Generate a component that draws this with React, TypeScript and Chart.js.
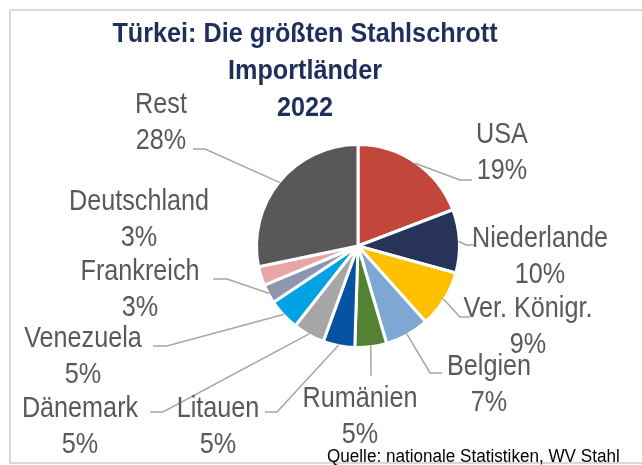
import React, { useEffect, useRef } from "react";
import { Chart, registerables } from "chart.js";

Chart.register(...registerables);

// ---- data ----
const categories = [
  "USA",
  "Niederlande",
  "Ver. Königr.",
  "Belgien",
  "Rumänien",
  "Litauen",
  "Dänemark",
  "Venezuela",
  "Frankreich",
  "Deutschland",
  "Rest",
];
const shares = [19, 10, 9, 7, 5, 5, 5, 5, 3, 3, 28];
const percentLabels = ["19%", "10%", "9%", "7%", "5%", "5%", "5%", "5%", "3%", "3%", "28%"];
const titleLines = ["Türkei: Die größten Stahlschrott", "Importländer", "2022"];
const sourceText = "Quelle: nationale Statistiken, WV Stahl";

// ---- styles / layout ----
const sliceColors = [
  "#C3463B",
  "#273359",
  "#FFC000",
  "#7FA7D3",
  "#548235",
  "#0553A1",
  "#A6A6A6",
  "#00A2E3",
  "#8D96AE",
  "#E5A6A5",
  "#585858",
];

type LabelPos = { x: number; y: number; elbow: number[] | null; end: number[] | null };
const labelLayout: LabelPos[] = [
  { x: 502, y: 143, elbow: [460, 180], end: [472, 180] },
  { x: 540, y: 247, elbow: [466, 245], end: [476, 245] },
  { x: 528, y: 317, elbow: [460, 317], end: [470, 317] },
  { x: 489, y: 375, elbow: [430, 373], end: [442, 373] },
  { x: 360, y: 407, elbow: [371, 376], end: [371, 376] },
  { x: 218, y: 417, elbow: [277, 412], end: [265, 412] },
  { x: 80, y: 417, elbow: [163, 412], end: [150, 412] },
  { x: 83, y: 347, elbow: [167, 346], end: [153, 346] },
  { x: 140, y: 280, elbow: [227, 279], end: [213, 279] },
  { x: 139, y: 210, elbow: null, end: null },
  { x: 161, y: 113, elbow: [205, 149], end: [193, 149] },
];

const LABEL_FONT = '30px "Liberation Sans", Arial, sans-serif';
const LABEL_SCALE = 0.84;
const LABEL_LINE = 36;

function drawScaledText(
  ctx: CanvasRenderingContext2D,
  text: string,
  x: number,
  y: number,
  scale: number,
  align: CanvasTextAlign
) {
  ctx.save();
  ctx.translate(x, y);
  ctx.scale(scale, 1);
  ctx.textAlign = align;
  ctx.textBaseline = "alphabetic";
  ctx.fillText(text, 0, 0);
  ctx.restore();
}

const decorPlugin = {
  id: "decor",
  beforeDraw(chart: any) {
    const ctx = chart.ctx as CanvasRenderingContext2D;
    ctx.save();
    ctx.strokeStyle = "#D9D9D9";
    ctx.lineWidth = 2;
    ctx.strokeRect(10, 10, 720, 453);
    ctx.restore();
  },
  afterDraw(chart: any) {
    const ctx = chart.ctx as CanvasRenderingContext2D;
    const meta = chart.getDatasetMeta(0);
    // leader lines
    ctx.save();
    ctx.strokeStyle = "#A6A6A6";
    ctx.lineWidth = 1.5;
    meta.data.forEach((arc: any, i: number) => {
      const lay = labelLayout[i];
      if (!lay || !lay.elbow || !lay.end) return;
      const p = arc.getProps(["x", "y", "startAngle", "endAngle", "outerRadius"], true);
      const mid = (p.startAngle + p.endAngle) / 2;
      const r = p.outerRadius - 1;
      const sx = p.x + Math.cos(mid) * r;
      const sy = p.y + Math.sin(mid) * r;
      ctx.beginPath();
      ctx.moveTo(sx, sy);
      ctx.lineTo(lay.elbow[0], lay.elbow[1]);
      ctx.lineTo(lay.end[0], lay.end[1]);
      ctx.stroke();
    });
    ctx.restore();

    // labels
    ctx.save();
    ctx.fillStyle = "#595959";
    ctx.font = LABEL_FONT;
    categories.forEach((name, i) => {
      const lay = labelLayout[i];
      drawScaledText(ctx, name, lay.x, lay.y, LABEL_SCALE, "center");
      drawScaledText(ctx, percentLabels[i], lay.x, lay.y + LABEL_LINE, LABEL_SCALE, "center");
    });
    ctx.restore();

    // title
    ctx.save();
    ctx.fillStyle = "#1F2F5C";
    ctx.font = 'bold 28px "Liberation Sans", Arial, sans-serif';
    const tb = [42, 79, 116];
    titleLines.forEach((t, i) => drawScaledText(ctx, t, 305, tb[i], 0.9, "center"));
    ctx.restore();

    // source
    ctx.save();
    ctx.fillStyle = "#000000";
    ctx.font = '18px "Liberation Sans", Arial, sans-serif';
    drawScaledText(ctx, sourceText, 327, 462, 0.95, "left");
    ctx.restore();
  },
};

export default function App() {
  const ref = useRef<HTMLCanvasElement | null>(null);

  useEffect(() => {
    document.body.style.margin = "0";
    const canvas = ref.current;
    if (!canvas) return;
    const chart = new Chart(canvas, {
      type: "pie",
      data: {
        labels: categories,
        datasets: [
          {
            data: shares,
            backgroundColor: sliceColors,
            borderColor: "#FFFFFF",
            borderWidth: 3,
          },
        ],
      },
      options: {
        animation: false,
        responsive: false,
        maintainAspectRatio: false,
        layout: { padding: { left: 255, right: 181, top: 143, bottom: 116 } },
        plugins: {
          legend: { display: false },
          title: { display: false },
          tooltip: { enabled: false },
        },
      },
      plugins: [decorPlugin],
    });
    return () => chart.destroy();
  }, []);

  return (
    <div style={{ width: 642, height: 465, background: "#FFFFFF" }}>
      <canvas ref={ref} width={642} height={465} style={{ display: "block" }} />
    </div>
  );
}
